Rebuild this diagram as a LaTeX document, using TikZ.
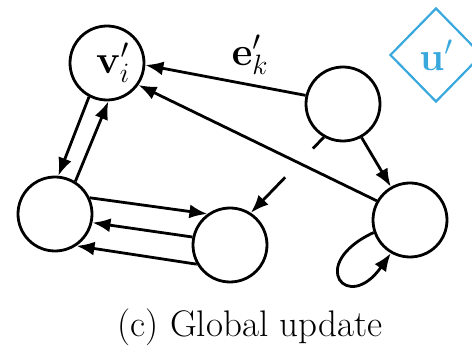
\RequirePackage{fix-cm}
\documentclass[tikz,border=0pt]{standalone}
\usetikzlibrary{arrows.meta,shapes.geometric,calc}
\definecolor{ublue}{RGB}{56,168,221}
\begin{document}
\begin{tikzpicture}[x=1pt,y=1pt,
  vertex/.style={circle,draw,line width=2.8pt,minimum size=74pt,inner sep=0pt},
  edge/.style={line width=2.8pt,-{Latex[length=18pt,width=14pt]}},
  plain/.style={line width=2.8pt},
  lbl/.style={font=\fontsize{40}{44}\selectfont}]
\useasboundingbox (0,0) rectangle (472,-347);
\clip (0,0) rectangle (472,-347);
% vertices
\node[vertex] (v) at (107,-63) {};
\node[lbl] (vl) at ([xshift=6pt]v.center) {$\mathbf{v}'_i$};
\node[vertex] (T) at (343,-104) {};
\node[vertex] (L) at (55,-214) {};
\node[vertex] (M) at (230,-245) {};
\node[vertex] (R) at (410,-220) {};
% global attribute
\node[diamond,draw=ublue,line width=2.2pt,minimum width=92pt,minimum height=94pt,
  inner sep=0pt,text=ublue,lbl] (u) at (436,-55) {$\mathbf{u}'$};
% labels
\node[lbl] (ek) at (250,-55) {$\mathbf{e}'_k$};
\node[font=\fontsize{37}{42}\selectfont] (cap) at (250,-327) {(c) Global update};
% edges
\draw[edge] (T.167) -- (v.-3);
\draw[edge] (R.150) -- (v.-35);
\draw[edge] (v.-118) -- (L.85);
\draw[edge] (L.58) -- (v.-88);
\draw[edge] (L.25) -- (M.126);
\draw[edge] (M.168) -- (L.-13);
\draw[edge] (M.-150) -- (L.-56);
\coordinate (g1) at ($(T.-120)!0.15!(M.57)$);
\coordinate (g2) at ($(T.-120)!0.53!(M.57)$);
\draw[plain] (T.-120) -- (g1);
\draw[edge] (g2) -- (M.57);
\draw[edge] (T.-61) -- (R.120);
\draw[edge] (R.-161) .. controls +(205:75) and +(235:75) .. (R.-120);
\end{tikzpicture}
\end{document}
